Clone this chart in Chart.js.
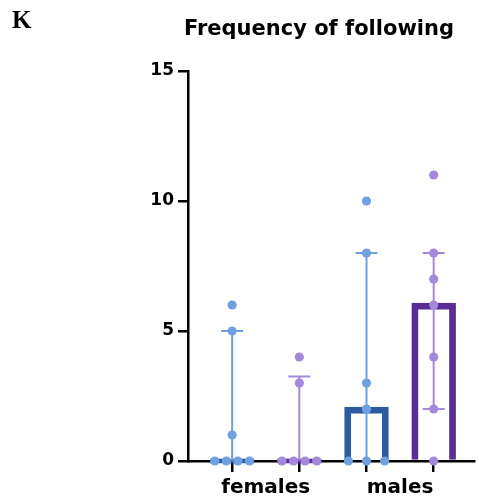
<!DOCTYPE html>
<html>
<head>
<meta charset="utf-8">
<script src="https://cdn.jsdelivr.net/npm/chart.js@4/dist/chart.umd.min.js"></script>
<style>
  html, body { margin: 0; padding: 0; background: #ffffff; }
  #wrap { position: relative; width: 479px; height: 501px; overflow: hidden; }
  #panel { position: absolute; left: 12px; top: 7px; font-family: "Liberation Serif", serif; font-weight: bold; font-size: 25px; color: #000; line-height: 1; }
  #title { position: absolute; left: 0; width: 638px; top: 18px; text-align: center; font-family: "DejaVu Sans", sans-serif; font-weight: bold; font-size: 21px; color: #000; line-height: 1; white-space: nowrap; }
  canvas { position: absolute; left: 0; top: 0; }
</style>
</head>
<body>
<div id="wrap">
  <canvas id="c" width="479" height="501"></canvas>
  <div id="panel">K</div>
  <div id="title">Frequency of following</div>
</div>
<script>
// ---- data ----
const groups = ['females', 'males'];
const groupPos = [1.5, 3.5];
const columnPos = [1, 2, 3, 4];
const medians = [0, 0, 2, 6];
const errLow = [0, 0, 0, 2];
const errHigh = [5, 3.25, 8, 8];
const femalesBlue = [6, 5, 1, 0, 0, 0, 0];
const femalesPurple = [4, 3, 0, 0, 0, 0];
const malesBlue = [10, 8, 3, 2, 0, 0, 0];
const malesPurple = [11, 8, 7, 6, 4, 2, 0];
const yTicks = [0, 5, 10, 15];

// ---- styling ----
const BLUE_PT = '#70a0df';
const PURPLE_PT = '#a488db';
const BLUE_BAR = '#2c5c9f';
const PURPLE_BAR = '#5a2d95';
const pointColors = [BLUE_PT, PURPLE_PT, BLUE_PT, PURPLE_PT];
const barColors = [BLUE_BAR, PURPLE_BAR, BLUE_BAR, PURPLE_BAR];
const columns = [femalesBlue, femalesPurple, malesBlue, malesPurple];
const FONT = '"DejaVu Sans", sans-serif';
const X_MIN = 0.343, X_MAX = 4.606;

// spread equal values side by side (dot-plot layout)
function swarm(values, center) {
  const counts = {};
  values.forEach(v => { counts[v] = (counts[v] || 0) + 1; });
  const seen = {};
  return values.map(v => {
    const k = counts[v];
    const j = seen[v] = (seen[v] === undefined ? 0 : seen[v] + 1);
    const spacing = k >= 4 ? 0.172 : 0.27;
    return { x: center + (j - (k - 1) / 2) * spacing, y: v };
  });
}

const errorBarPlugin = {
  id: 'errorBars',
  afterDatasetDraw(chart, args) {
    if (args.index !== 0) return;
    const ctx = chart.ctx;
    const xs = chart.scales.x, ys = chart.scales.y;
    const meta = chart.getDatasetMeta(0);
    ctx.save();
    // zero-height median bars drawn as a line at the base
    meta.data.forEach((el, i) => {
      if (medians[i] === 0) {
        ctx.strokeStyle = barColors[i];
        ctx.lineWidth = 4.5;
        ctx.beginPath();
        ctx.moveTo(el.x - el.width / 2 - 2, el.y);
        ctx.lineTo(el.x + el.width / 2 + 2, el.y);
        ctx.stroke();
      }
    });
    const cap = 11;
    columnPos.forEach((p, i) => {
      const x = xs.getPixelForValue(p);
      const yl = ys.getPixelForValue(errLow[i]);
      const yh = ys.getPixelForValue(errHigh[i]);
      ctx.strokeStyle = pointColors[i];
      ctx.lineWidth = 2;
      ctx.beginPath();
      ctx.moveTo(x, yl); ctx.lineTo(x, yh);
      ctx.moveTo(x - cap, yh); ctx.lineTo(x + cap, yh);
      if (errLow[i] > 0) { ctx.moveTo(x - cap, yl); ctx.lineTo(x + cap, yl); }
      ctx.stroke();
    });
    ctx.restore();
  }
};

const datasets = [{
  type: 'bar',
  label: 'median',
  data: columnPos.map((x, i) => ({ x: x, y: medians[i] })),
  backgroundColor: 'rgba(0,0,0,0)',
  borderColor: barColors,
  borderWidth: 2.25,
  borderSkipped: 'start',
  barThickness: 40,
  inflateAmount: 2.25,
  order: 3,
  clip: false,
  xAxisID: 'x', yAxisID: 'y'
}];
columns.forEach((vals, i) => {
  datasets.push({
    type: 'scatter',
    label: 'column ' + (i + 1),
    data: swarm(vals, columnPos[i]),
    backgroundColor: pointColors[i],
    borderWidth: 0,
    pointRadius: 4.6,
    order: 0,
    clip: false,
    xAxisID: 'x', yAxisID: 'y'
  });
});

new Chart(document.getElementById('c'), {
  type: 'bar',
  data: { datasets: datasets },
  plugins: [errorBarPlugin],
  options: {
    responsive: false,
    animation: false,
    events: [],
    layout: { padding: { left: 0, right: 0, top: 71, bottom: 0 } },
    plugins: { legend: { display: false }, tooltip: { enabled: false }, title: { display: false } },
    scales: {
      x: {
        type: 'linear', position: 'bottom', weight: 0, offset: false,
        min: X_MIN, max: X_MAX,
        afterBuildTicks: s => { s.ticks = columnPos.map(v => ({ value: v })); },
        ticks: { display: false },
        grid: { offset: false, drawOnChartArea: false, drawTicks: true, tickLength: 11, lineWidth: 2.5, color: '#000' },
        border: { display: true, color: '#000', width: 2.5 },
        afterFit: s => { s.height = 12; }
      },
      xg: {
        type: 'linear', position: 'bottom', weight: 1, offset: false,
        min: X_MIN, max: X_MAX,
        afterBuildTicks: s => { s.ticks = groupPos.map(v => ({ value: v })); },
        ticks: {
          autoSkip: false, maxRotation: 0, padding: -5, color: '#000',
          font: { family: FONT, weight: 'bold', size: 20 },
          callback: v => groups[groupPos.indexOf(v)]
        },
        grid: { display: false, offset: false },
        border: { display: false },
        afterFit: s => { s.height = 28; }
      },
      y: {
        type: 'linear', position: 'left', min: 0, max: 15,
        afterBuildTicks: s => { s.ticks = yTicks.map(v => ({ value: v })); },
        ticks: { color: '#000', padding: 4, font: { family: FONT, weight: 'bold', size: 17 } },
        grid: { drawOnChartArea: false, drawTicks: true, tickLength: 10, lineWidth: 2.5, color: '#000' },
        border: { display: true, color: '#000', width: 2.5 },
        afterFit: s => { s.width = 188; }
      }
    }
  }
});
</script>
</body>
</html>
